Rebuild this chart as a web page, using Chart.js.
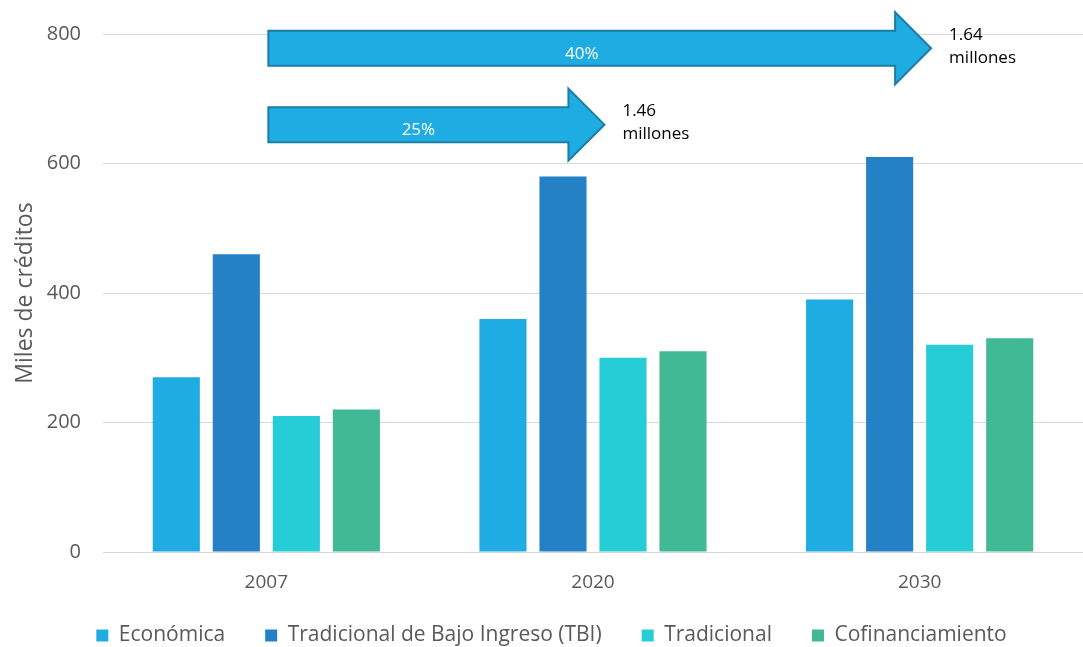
<!DOCTYPE html>
<html>
<head>
<meta charset="utf-8">
<script src="https://cdn.jsdelivr.net/npm/chart.js@4.4.0/dist/chart.umd.min.js"></script>
<style>
  html, body { margin: 0; padding: 0; background: #fff; }
  #box { width: 1083px; height: 647px; position: relative; }
</style>
</head>
<body>
<div id="box"><canvas id="chart"></canvas></div>
<script>
// data (miles de créditos)
var years = ['2007', '2020', '2030'];
var economica = [270, 360, 390];
var tbi = [460, 580, 610];
var tradicional = [210, 300, 320];
var cofinanciamiento = [220, 310, 330];
var seriesNames = ['Económica', 'Tradicional de Bajo Ingreso (TBI)', 'Tradicional', 'Cofinanciamiento'];

// growth arrows: from 2007 to target year, label and total
var arrowTargets = [2, 1];          // index in years
var arrowLevels = [778, 660];       // y value of arrow centre line
var arrowPct = ['40%', '25%'];
var arrowTotals = ['1.64', '1.46'];

var colours = {
    economica: '#1FACE3',
    tbi: '#2581C6',
    tradicional: '#26CCD6',
    cofin: '#41B994',
    grid: '#D9D9D9',
    text: '#595959',
    arrowFill: '#1FACE3',
    arrowLine: '#1A7EA6'
};

var baseFont = "'Open Sans', sans-serif";

var arrowPlugin = {
    id: 'arrows',
    beforeLayout: function (chart) {
        // legend keeps its wide item spacing, but takes less room at the bottom
        var lg = chart.legend;
        if (lg && !lg._wrapped) {
            var f = lg.fit;
            lg.fit = function () {
                f.call(this);
                this.height = 31;
            };
            var d = lg._draw;
            lg._draw = function () {
                this.ctx.save();
                this.ctx.translate(10, -31);
                d.call(this);
                this.ctx.restore();
            };
            lg._wrapped = true;
        }
    },
    // the two block arrows and their text
    afterDatasetsDraw: function (chart) {
        var ctx = chart.ctx;
        var xs = chart.scales.x;
        var ys = chart.scales.y;
        var step = xs.getPixelForValue(1) - xs.getPixelForValue(0);
        for (var i = 0; i < arrowTargets.length; i++) {
            var x0 = xs.getPixelForValue(0) + 2;
            var tip = xs.getPixelForValue(arrowTargets[i]) + step * 0.035;
            var yc = ys.getPixelForValue(arrowLevels[i]);
            var bodyH = 17.5, headH = 36, headL = 36;
            ctx.save();
            ctx.beginPath();
            ctx.moveTo(x0, yc - bodyH);
            ctx.lineTo(tip - headL, yc - bodyH);
            ctx.lineTo(tip - headL, yc - headH);
            ctx.lineTo(tip, yc);
            ctx.lineTo(tip - headL, yc + headH);
            ctx.lineTo(tip - headL, yc + bodyH);
            ctx.lineTo(x0, yc + bodyH);
            ctx.closePath();
            ctx.fillStyle = colours.arrowFill;
            ctx.fill();
            ctx.lineWidth = 2;
            ctx.strokeStyle = colours.arrowLine;
            ctx.stroke();

            ctx.fillStyle = '#ffffff';
            ctx.font = '17px ' + baseFont;
            ctx.textAlign = 'center';
            ctx.textBaseline = 'middle';
            ctx.fillText(arrowPct[i], (x0 + tip - headL) / 2, yc + 6);

            ctx.fillStyle = '#000000';
            ctx.textAlign = 'left';
            ctx.fillText(arrowTotals[i], tip + 18, yc - 13);
            ctx.fillText('millones', tip + 18, yc + 10);
            ctx.restore();
        }
    }
};

var data = {
    labels: years,
    datasets: [
        { label: seriesNames[0], data: economica, backgroundColor: colours.economica },
        { label: seriesNames[1], data: tbi, backgroundColor: colours.tbi },
        { label: seriesNames[2], data: tradicional, backgroundColor: colours.tradicional },
        { label: seriesNames[3], data: cofinanciamiento, backgroundColor: colours.cofin }
    ]
};

var options = {
    responsive: false,
    maintainAspectRatio: false,
    animation: false,
    layout: { padding: { top: 24, right: 0, left: 0, bottom: 0 } },
    datasets: {
        bar: { categoryPercentage: 0.735, barPercentage: 0.785 }
    },
    plugins: {
        tooltip: { enabled: false },
        legend: {
            position: 'bottom',
            labels: {
                boxWidth: 12,
                boxHeight: 12,
                padding: 40,
                color: colours.text,
                font: { family: baseFont, size: 21 }
            }
        }
    },
    scales: {
        x: {
            grid: { display: false },
            border: { display: true, color: colours.grid, width: 1 },
            ticks: { color: colours.text, font: { family: baseFont, size: 19 }, padding: 11 },
            afterFit: function (scale) { scale.height = 64; }
        },
        y: {
            min: 0,
            max: 800,
            ticks: { stepSize: 200, color: colours.text, font: { family: baseFont, size: 20 }, padding: 22 },
            grid: { color: colours.grid, drawTicks: false },
            border: { display: false },
            title: {
                display: true,
                text: 'Miles de créditos',
                color: colours.text,
                font: { family: baseFont, size: 23 },
                padding: { top: 12, bottom: 4 }
            },
            afterFit: function (scale) { scale.width = 103; }
        }
    }
};

var el = document.getElementById('chart');
el.width = 1083;
el.height = 647;
var ctx = el.getContext('2d');
var myChart = new Chart(ctx, {
    type: 'bar',
    data: data,
    options: options,
    plugins: [arrowPlugin]
});
</script>
</body>
</html>
